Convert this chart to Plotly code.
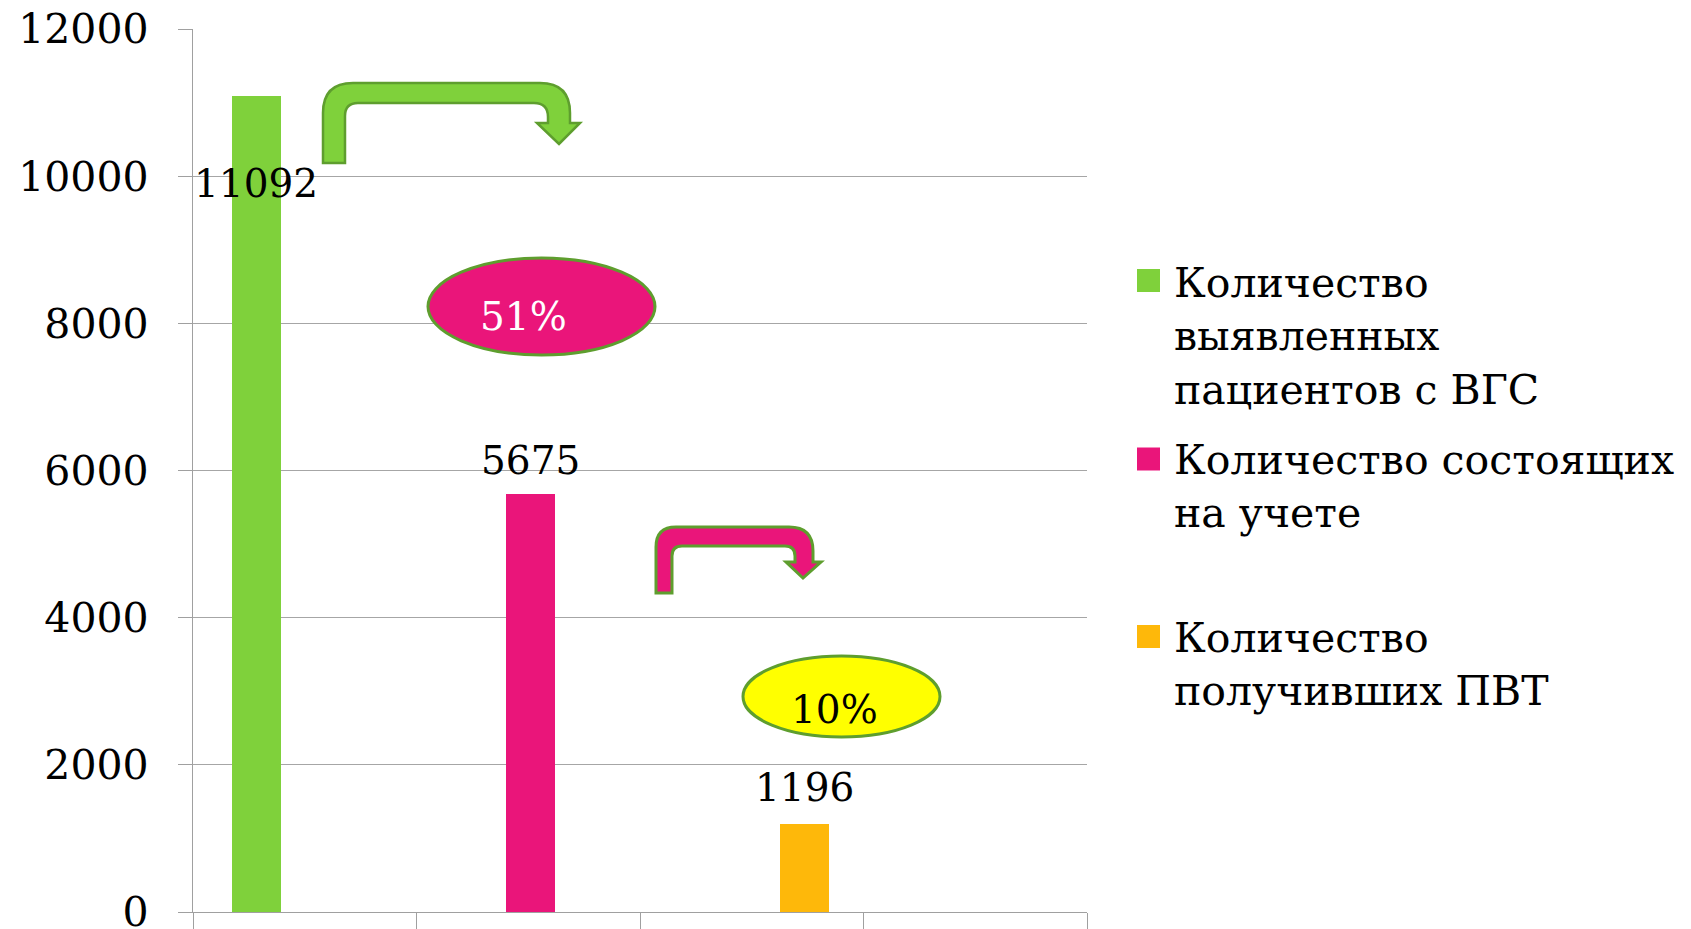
import plotly.graph_objects as go

# ---------------- data ----------------
series_names = [
    "Количество<br>выявленных<br>пациентов с ВГС",
    "Количество состоящих<br>на учете",
    "Количество<br>получивших ПВТ",
]
values = [11092, 5675, 1196]
percent_labels = ["51%", "10%"]
y_ticks = [0, 2000, 4000, 6000, 8000, 10000, 12000]

# ---------------- styles / layout ----------------
colors = ["#7FD13B", "#EA157A", "#FEB80A"]
bar_pos = [0.283, 1.511, 2.735]
bar_width = 0.22
label_shift = [-88, 34, 36]
FONT = "DejaVu Serif"
OFF = 8                      # page body margin
W, H = 1691 - OFF, 929 - OFF
# plot area in screen pixels
L, R, T, B = 193, 1087, 29, 912


def px(x, y):
    return (x - L) / (R - L), (B - y) / (B - T)


def path(points_cmds):
    out = []
    for cmd, pts in points_cmds:
        coords = []
        for (x, y) in pts:
            xp, yp = px(x, y)
            coords.append(f"{xp:.5f},{yp:.5f}")
        out.append(cmd + " ".join(coords))
    return " ".join(out) + " Z"


fig = go.Figure()
for name, v, c, xp in zip(series_names, values, colors, bar_pos):
    fig.add_trace(go.Bar(
        x=[xp], y=[v], width=bar_width, name=name.replace("<br>", " "),
        marker=dict(color=c, line=dict(width=0)), showlegend=False,
        hoverinfo="y",
    ))

annotations = []
for v, xp, sh in zip(values, bar_pos, label_shift):
    annotations.append(dict(
        x=xp, y=v, xref="x", yref="y", text=str(v), showarrow=False,
        yanchor="middle", yshift=sh,
        font=dict(family=FONT, size=39, color="black"),
    ))

shapes = []

# green bent arrow
green_arrow = [
    ("M", [(323, 163)]), ("L", [(323, 113)]), ("Q", [(323, 83), (353, 83)]),
    ("L", [(540, 83)]), ("Q", [(570, 83), (570, 113)]), ("L", [(570, 123)]),
    ("L", [(580, 123)]), ("L", [(559, 144)]), ("L", [(537, 123)]),
    ("L", [(548, 123)]), ("L", [(548, 117)]), ("Q", [(548, 103), (534, 103)]),
    ("L", [(358, 103)]), ("Q", [(345, 103), (345, 116)]), ("L", [(345, 163)]),
]
shapes.append(dict(type="path", xref="paper", yref="paper", path=path(green_arrow),
                   fillcolor="#7FD13B", line=dict(color="#5E9E2E", width=2.5)))

# pink bent arrow
pink_arrow = [
    ("M", [(656, 593)]), ("L", [(656, 547)]), ("Q", [(656, 527), (676, 527)]),
    ("L", [(789, 527)]), ("Q", [(813, 527), (813, 551)]), ("L", [(813, 562)]),
    ("L", [(821, 562)]), ("L", [(803, 578)]), ("L", [(786, 562)]),
    ("L", [(795, 562)]), ("L", [(795, 556)]), ("Q", [(795, 546), (785, 546)]),
    ("L", [(682, 546)]), ("Q", [(672, 546), (672, 556)]), ("L", [(672, 593)]),
]
shapes.append(dict(type="path", xref="paper", yref="paper", path=path(pink_arrow),
                   fillcolor="#EA157A", line=dict(color="#5E9E2E", width=3)))

# ellipses with percentages
ell = [((428, 258, 655, 355), "#EA157A", "white", (523, 316)),
       ((743, 656, 940, 737), "#FFFF00", "black", (834, 709))]
for (x0, y0, x1, y1), fc, tc, _ in ell:
    a0 = px(x0, y1)
    a1 = px(x1, y0)
    shapes.append(dict(type="circle", xref="paper", yref="paper",
                       x0=a0[0], y0=a0[1], x1=a1[0], y1=a1[1],
                       fillcolor=fc, line=dict(color="#5E9E2E", width=3)))
for e, lab in zip(ell, percent_labels):
    tx, ty = e[3]
    p = px(tx, ty)
    annotations.append(dict(x=p[0], y=p[1], xref="paper", yref="paper", text=lab,
                            showarrow=False, xanchor="center", yanchor="middle",
                            font=dict(family=FONT, size=39, color=e[2])))

# custom legend (large square keys)
leg_sq_y = [280.5, 459, 636.5]
leg_txt_y = [336, 486, 664]
for name, c, sy, ty in zip(series_names, colors, leg_sq_y, leg_txt_y):
    a0 = px(1137, sy + 11.5)
    a1 = px(1160, sy - 11.5)
    shapes.append(dict(type="rect", xref="paper", yref="paper",
                       x0=a0[0], y0=a0[1], x1=a1[0], y1=a1[1],
                       fillcolor=c, line=dict(width=0)))
    p = px(1172, ty)
    annotations.append(dict(x=p[0], y=p[1], xref="paper", yref="paper", text=name,
                            showarrow=False, xanchor="left", yanchor="middle", align="left",
                            font=dict(family=FONT, size=41, color="black")))

fig.update_layout(
    width=W, height=H,
    margin=dict(l=L - OFF, r=1691 - R, t=T - OFF, b=929 - B, autoexpand=False),
    paper_bgcolor="white", plot_bgcolor="white",
    bargap=0,
    xaxis=dict(range=[0, 4], tickvals=[0, 1, 2, 3, 4], showticklabels=False,
               ticks="outside", ticklen=17, tickwidth=1.3, tickcolor="#a0a0a0",
               showgrid=False, zeroline=False, showline=True, linecolor="#a0a0a0",
               linewidth=1.3, fixedrange=True),
    yaxis=dict(range=[0, 12000], tickvals=y_ticks, ticktext=[str(t) for t in y_ticks],
               ticks="outside", ticklen=14, tickwidth=1.3, tickcolor="#a0a0a0",
               showgrid=True, gridcolor="#a6a6a6", gridwidth=1.3,
               zeroline=False, showline=True, linecolor="#a0a0a0", linewidth=1.3,
               tickfont=dict(family=FONT, size=41, color="black"),
               ticklabelstandoff=21, ticklabeloverflow="allow", fixedrange=True),
    shapes=shapes, annotations=annotations,
    showlegend=False,
)

fig.write_html("out.html")
